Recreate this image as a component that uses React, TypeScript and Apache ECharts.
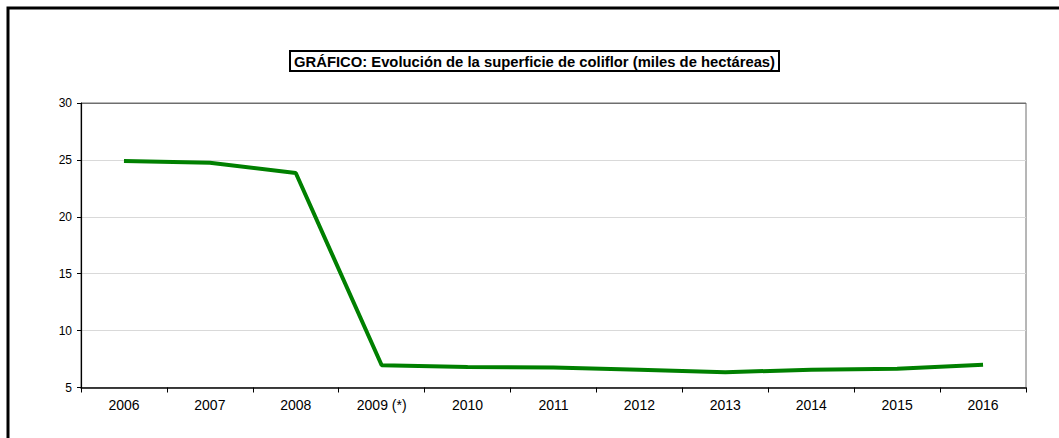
import React, { useEffect, useRef } from "react";
import * as echarts from "echarts";

const titleText = "GRÁFICO: Evolución de la superficie de coliflor (miles de hectáreas)";
const categories = ["2006", "2007", "2008", "2009 (*)", "2010", "2011", "2012", "2013", "2014", "2015", "2016"];
const superficie = [24.9, 24.75, 23.85, 6.95, 6.8, 6.75, 6.55, 6.35, 6.55, 6.65, 7.0];
const yMin = 5;
const yMax = 30;
const yInterval = 5;

export default function App() {
  const ref = useRef<HTMLDivElement>(null);
  useEffect(() => {
    if (!ref.current) return;
    const chart = echarts.init(ref.current, null, { renderer: "svg" });
    chart.setOption({
      animation: false,
      backgroundColor: "#ffffff",
      title: {
        text: titleText,
        left: 290,
        top: 51,
        padding: [3, 4, 2, 4],
        borderColor: "#000",
        borderWidth: 2,
        textStyle: {
          fontFamily: "Liberation Sans, Arial, sans-serif",
          fontSize: 14.8,
          fontWeight: "bold",
          color: "#000",
        },
      },
      graphic: [
        {
          type: "rect",
          shape: { x: 8, y: 8, width: 1200, height: 600 },
          style: { fill: "none", stroke: "#000", lineWidth: 3 },
          silent: true,
          z: 100,
        },
      ],
      grid: {
        left: 81,
        right: 33,
        top: 103,
        bottom: 50.5,
        show: true,
        borderColor: "#6e6e6e",
        borderWidth: 1,
        backgroundColor: "transparent",
      },
      xAxis: {
        type: "category",
        data: categories,
        boundaryGap: true,
        axisLine: { lineStyle: { color: "#000", width: 1.5 } },
        axisTick: { show: true, length: 5, lineStyle: { color: "#000" } },
        axisLabel: {
          color: "#000",
          fontFamily: "Liberation Sans, Arial, sans-serif",
          fontSize: 14,
          margin: 10,
          interval: 0,
        },
        splitLine: { show: false },
      },
      yAxis: {
        type: "value",
        min: yMin,
        max: yMax,
        interval: yInterval,
        axisLine: { show: true, lineStyle: { color: "#000", width: 1.2 } },
        axisTick: { show: true, length: 4, lineStyle: { color: "#000" } },
        axisLabel: {
          color: "#000",
          fontFamily: "Liberation Sans, Arial, sans-serif",
          fontSize: 12,
          margin: 9,
        },
        splitLine: {
          show: true,
          lineStyle: {
            color: ["#d9d9d9", "#d9d9d9", "#d9d9d9", "#d9d9d9", "#d9d9d9", "#6e6e6e"],
            width: 1,
          },
        },
      },
      series: [
        {
          type: "line",
          data: superficie,
          showSymbol: false,
          symbol: "none",
          lineStyle: { color: "#008000", width: 4 },
          itemStyle: { color: "#008000" },
        },
      ],
    });
    return () => chart.dispose();
  }, []);
  return (
    <div
      ref={ref}
      style={{ position: "fixed", left: 0, top: 0, width: 1059, height: 438 }}
    />
  );
}
